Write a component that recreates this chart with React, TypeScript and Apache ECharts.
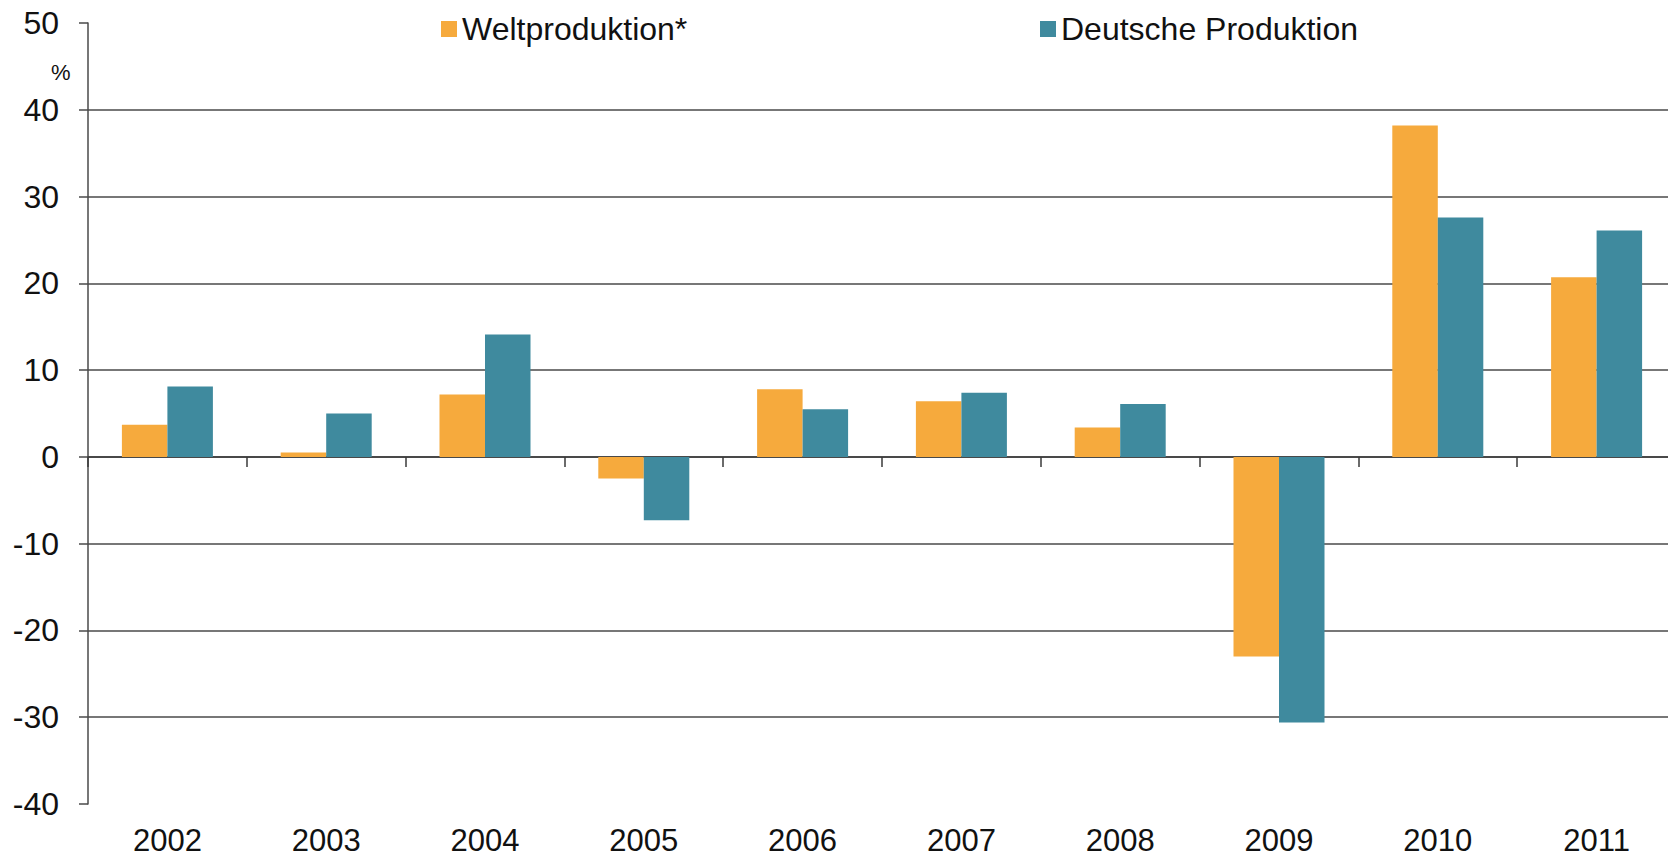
import React, { useEffect, useRef } from "react";
import * as echarts from "echarts";

const years = ["2002", "2003", "2004", "2005", "2006", "2007", "2008", "2009", "2010", "2011"];
const welt = [3.7, 0.5, 7.2, -2.5, 7.8, 6.4, 3.4, -23.0, 38.2, 20.7];
const deutsch = [8.1, 5.0, 14.1, -7.3, 5.5, 7.4, 6.1, -30.6, 27.6, 26.1];
const seriesNames = ["Weltproduktion*", "Deutsche Produktion"];
const yMin = -40;
const yMax = 50;
const yStep = 10;

const FONT = "'Liberation Sans', Arial, sans-serif";

export default function App() {
  const ref = useRef<HTMLDivElement>(null);

  useEffect(() => {
    document.body.style.margin = "0";
    if (!ref.current) return;
    const chart = echarts.init(ref.current, null, { renderer: "svg" });
    chart.setOption({
      animation: false,
      backgroundColor: "#ffffff",
      textStyle: { fontFamily: FONT },
      grid: {
        left: 88,
        top: 23,
        width: 1588,
        height: 781,
        containLabel: false,
        outerBoundsMode: "none",
      },
      legend: [
        {
          data: [seriesNames[0]],
          left: 436,
          top: 8,
          itemWidth: 16,
          itemHeight: 16,
          icon: "rect",
          textStyle: { fontSize: 32, color: "#111", fontFamily: FONT },
        },
        {
          data: [seriesNames[1]],
          left: 1035,
          top: 8,
          itemWidth: 16,
          itemHeight: 16,
          icon: "rect",
          textStyle: { fontSize: 32, color: "#111", fontFamily: FONT },
        },
      ],
      graphic: [
        {
          type: "text",
          left: 51,
          top: 61,
          style: { text: "%", fontSize: 22, fill: "#111", fontFamily: FONT },
        },
      ],
      xAxis: [
        {
          type: "category",
          data: years,
          position: "bottom",
          axisLine: { show: true, onZero: true, lineStyle: { color: "#3a3a3a", width: 1.5 } },
          axisTick: { show: true, length: 10, lineStyle: { color: "#3a3a3a", width: 1.5 } },
          axisLabel: { show: false },
          splitLine: { show: false },
        },
        {
          type: "category",
          data: years,
          position: "bottom",
          axisLine: { show: false, onZero: false },
          axisTick: { show: false },
          axisLabel: {
            show: true,
            fontSize: 31,
            lineHeight: 30,
            color: "#111",
            margin: 21,
            fontFamily: FONT,
          },
          splitLine: { show: false },
        },
      ],
      yAxis: {
        type: "value",
        min: yMin,
        max: yMax,
        interval: yStep,
        axisLine: { show: true, lineStyle: { color: "#4a4a4a", width: 1.5 } },
        axisTick: { show: true, length: 9, lineStyle: { color: "#4a4a4a", width: 1.5 } },
        axisLabel: { fontSize: 32, color: "#111", margin: 29, fontFamily: FONT },
        splitLine: {
          show: true,
          showMinLine: false,
          showMaxLine: false,
          lineStyle: { color: "#4a4a4a", width: 1.5 },
        },
      },
      series: [
        {
          name: seriesNames[0],
          type: "bar",
          xAxisIndex: 0,
          data: welt,
          barWidth: 45.5,
          barGap: "0%",
          itemStyle: { color: "#F6AA3D" },
        },
        {
          name: seriesNames[1],
          type: "bar",
          xAxisIndex: 0,
          data: deutsch,
          barWidth: 45.5,
          barGap: "0%",
          itemStyle: { color: "#3F8A9E" },
        },
      ],
    });
    return () => chart.dispose();
  }, []);

  return <div ref={ref} style={{ width: 1668, height: 858 }} />;
}
